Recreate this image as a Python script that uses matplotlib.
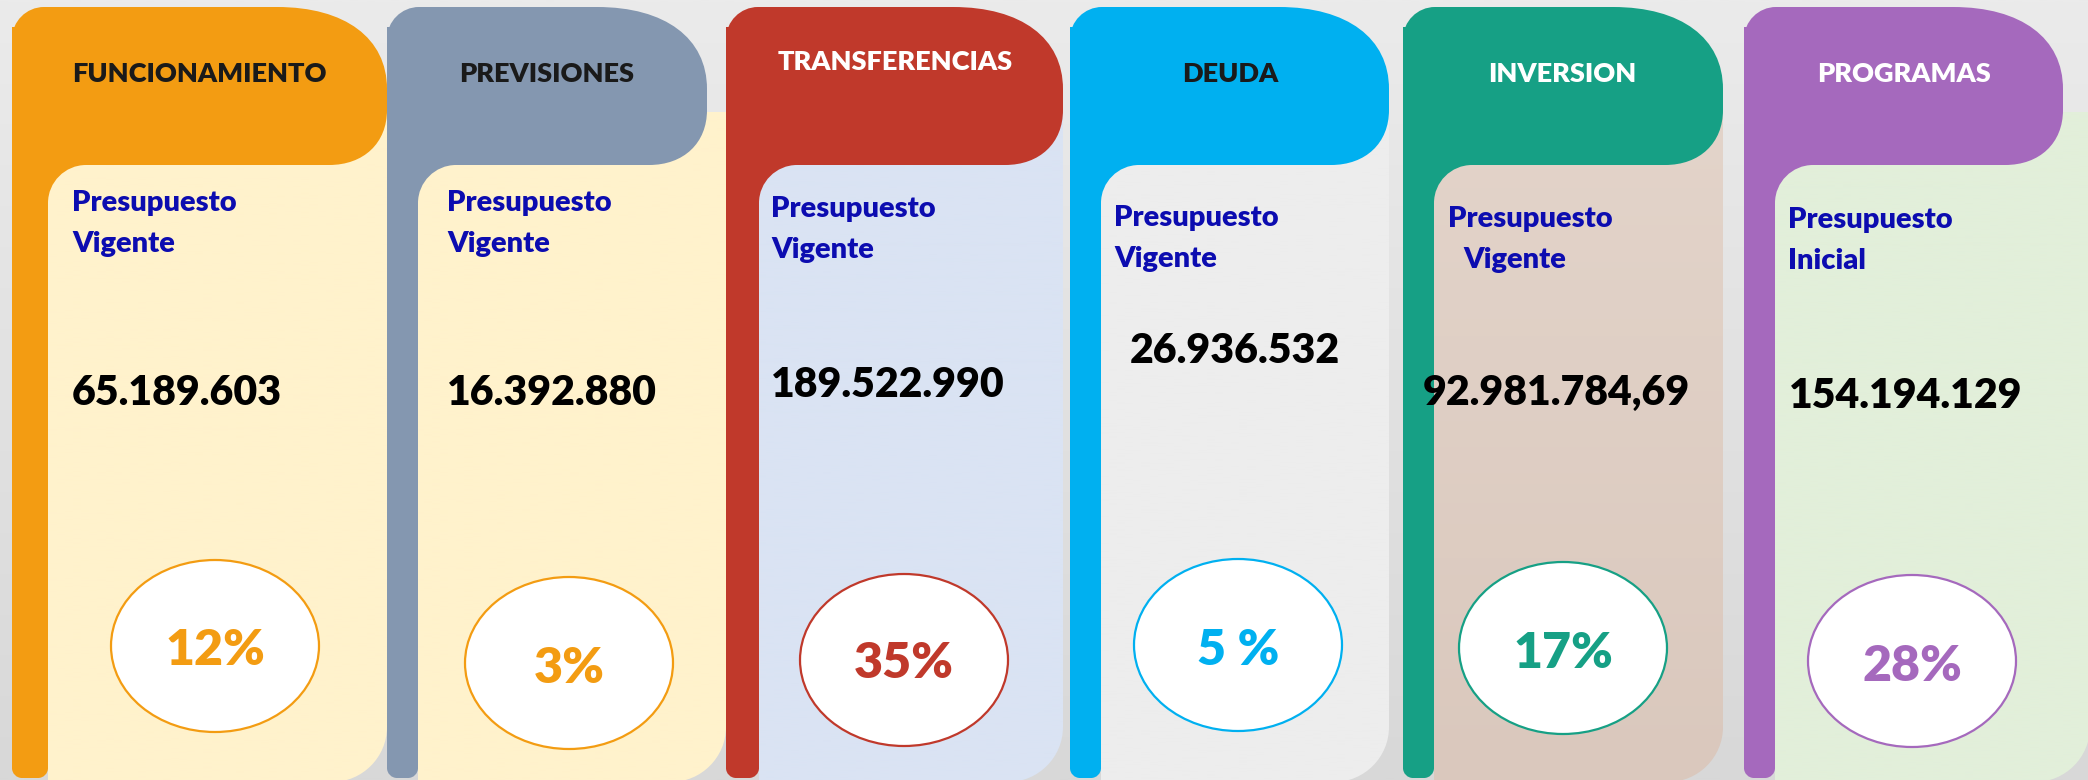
import numpy as np
import matplotlib
matplotlib.use("Agg")
import matplotlib.pyplot as plt
from matplotlib.path import Path
from matplotlib.patches import PathPatch, Ellipse
from matplotlib.colors import to_rgb

# ---- data ----
categories = ["FUNCIONAMIENTO", "PREVISIONES", "TRANSFERENCIAS", "DEUDA", "INVERSION", "PROGRAMAS"]
label_top = ["Presupuesto"] * 6
label_bottom = ["Vigente", "Vigente", "Vigente", "Vigente", "Vigente", "Inicial"]
amounts = ["65.189.603", "16.392.880", "189.522.990", "26.936.532", "92.981.784,69", "154.194.129"]
percents = ["12%", "3%", "35%", "5 %", "17%", "28%"]

# ---- styles ----
flag_colors = ["#F39C12", "#8497B0", "#C0392B", "#00B0F0", "#16A085", "#A569BD"]
body_top = ["#FFF2CC", "#FFF2CC", "#DAE3F3", "#EDEDED", "#E3D4CA", "#E2EFDA"]
body_bot = ["#FFF2CC", "#FFF2CC", "#DAE3F3", "#EDEDED", "#DAC8BD", "#E2EFDA"]
head_txt = ["#1a1a1a", "#1a1a1a", "#ffffff", "#1a1a1a", "#ffffff", "#ffffff"]
pct_colors = ["#F39C12", "#F39C12", "#C0392B", "#00B0F0", "#16A085", "#A569BD"]
label_color = "#0c0cb0"

# ---- layout (pixels, y down) ----
flag_left = [12, 387, 726, 1070, 1403, 1744]
strip_right = [48, 418, 759, 1101, 1434, 1775]
header_right = [387, 707, 1063, 1389, 1723, 2063]
body_right = [387, 726, 1063, 1389, 1723, 2090]
head_x = [199, 547, 895, 1230, 1562, 1904]
head_y = [82, 82, 70, 82, 82, 82]
lab_x = [72, 447, 771, 1114, 1448, 1788]
lab_dx2 = [0, 0, 0, 0, 15, 0]
lab_y = [211, 211, 217, 226, 227, 228]
amt_x = [72, 447, 771, 1130, 1423, 1789]
amt_y = [405, 405, 397, 363, 405, 408]
ell_cx = [215, 569, 904, 1238, 1563, 1912]
ell_cy = [646, 663, 660, 645, 648, 661]
pct_y = [665, 683, 678, 665, 668, 681]

W, H = 2088, 780
TOP, HEAD_BOT, BODY_TOP, BOTTOM = 7, 165, 112, 782

plt.rcParams['font.family'] = ['Lato', 'DejaVu Sans']

fig = plt.figure(figsize=(W / 100, H / 100), dpi=100)
ax = fig.add_axes([0, 0, 1, 1])


def rounded(x0, y0, x1, y1, tl=(0, 0), tr=(0, 0), br=(0, 0), bl=(0, 0), k=(0.55, 0.55, 0.55, 0.55)):
    v, c = [], []
    v.append((x0 + tl[0], y0)); c.append(Path.MOVETO)
    v.append((x1 - tr[0], y0)); c.append(Path.LINETO)
    v += [(x1 - tr[0] + k[1] * tr[0], y0), (x1, y0 + tr[1] - k[1] * tr[1]), (x1, y0 + tr[1])]
    c += [Path.CURVE4] * 3
    v.append((x1, y1 - br[1])); c.append(Path.LINETO)
    v += [(x1, y1 - br[1] + k[2] * br[1]), (x1 - br[0] + k[2] * br[0], y1), (x1 - br[0], y1)]
    c += [Path.CURVE4] * 3
    v.append((x0 + bl[0], y1)); c.append(Path.LINETO)
    v += [(x0 + bl[0] - k[3] * bl[0], y1), (x0, y1 - bl[1] + k[3] * bl[1]), (x0, y1 - bl[1])]
    c += [Path.CURVE4] * 3
    v.append((x0, y0 + tl[1])); c.append(Path.LINETO)
    v += [(x0, y0 + tl[1] - k[0] * tl[1]), (x0 + tl[0] - k[0] * tl[0], y0), (x0 + tl[0], y0)]
    c += [Path.CURVE4] * 3
    v.append((x0 + tl[0], y0)); c.append(Path.CLOSEPOLY)
    return Path(v, c)


def gradient_fill(path, ytop, ybot, ctop, cbot, z):
    patch = PathPatch(path, facecolor='none', edgecolor='none', transform=ax.transData)
    ax.add_patch(patch)
    t = np.linspace(0, 1, 200)[:, None]
    a, b = np.array(to_rgb(ctop)), np.array(to_rgb(cbot))
    img = (a * (1 - t) + b * t)[:, None, :]
    im = ax.imshow(img, extent=[0, W, ybot, ytop], origin='upper', aspect='auto',
                   zorder=z, interpolation='bilinear')
    im.set_clip_path(patch)


# background
gradient_fill(rounded(-5, -5, W + 5, H + 5), 0, H, "#ebebeb", "#d8d8d8", 0)

for i in range(6):
    fc = flag_colors[i]
    z = 1 + i * 0.1
    # corner filler so the body's rounded corner shows flag colour
    ax.add_patch(PathPatch(rounded(strip_right[i] - 2, HEAD_BOT - 2, strip_right[i] + 45, HEAD_BOT + 45),
                           facecolor=fc, edgecolor='none', zorder=z))
    # body
    body = Path.make_compound_path(
        rounded(strip_right[i], HEAD_BOT, body_right[i], BOTTOM, tl=(38, 38), br=(55, 55)),
        rounded(strip_right[i] + 60, BODY_TOP, body_right[i], HEAD_BOT + 40))
    gradient_fill(body, BODY_TOP, BOTTOM, body_top[i], body_bot[i], z + 0.01)
    # header + strip
    ax.add_patch(PathPatch(rounded(flag_left[i], TOP, header_right[i], HEAD_BOT,
                                   tl=(32, 32), tr=(110, 82), br=(58, 55), k=(0.55, 0.62, 0.6, 0.55)),
                           facecolor=fc, edgecolor='none', zorder=z + 0.02))
    ax.add_patch(PathPatch(rounded(flag_left[i], TOP + 20, strip_right[i], 778, br=(10, 10), bl=(10, 10)),
                           facecolor=fc, edgecolor='none', zorder=z + 0.02))

    ax.text(head_x[i], head_y[i], categories[i], ha='center', va='baseline', fontsize=19.5,
            fontweight='heavy', color=head_txt[i], zorder=5)
    ax.text(lab_x[i], lab_y[i], label_top[i], ha='left', va='baseline', fontsize=21,
            fontweight='heavy', color=label_color, zorder=5)
    ax.text(lab_x[i] + lab_dx2[i], lab_y[i] + 41, label_bottom[i], ha='left', va='baseline', fontsize=21,
            fontweight='heavy', color=label_color, zorder=5)
    ax.text(amt_x[i], amt_y[i], amounts[i], ha='left', va='baseline', fontsize=29.5,
            fontweight='heavy', color='black', zorder=5)
    ax.add_patch(Ellipse((ell_cx[i], ell_cy[i]), 208, 172, facecolor='white',
                         edgecolor=pct_colors[i], lw=1.6, zorder=4))
    ax.text(ell_cx[i], pct_y[i], percents[i], ha='center', va='baseline', fontsize=36,
            fontweight='heavy', color=pct_colors[i], zorder=5)

ax.set_xlim(0, W)
ax.set_ylim(H, 0)
ax.axis('off')
fig.savefig("out.png", dpi=100)
